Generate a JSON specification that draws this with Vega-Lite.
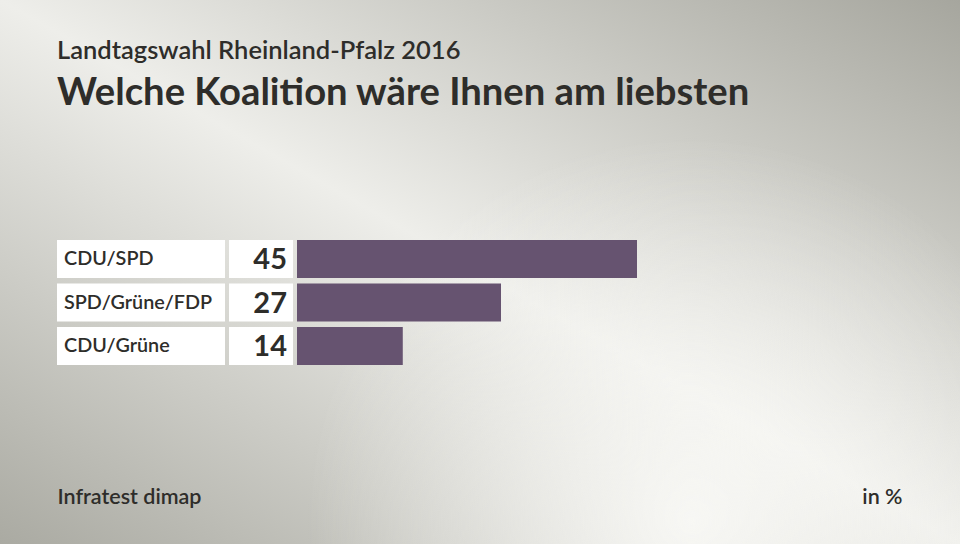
{
  "$schema": "https://vega.github.io/schema/vega-lite/v6.json",
  "width": 960,
  "height": 544,
  "autosize": {"type": "none"},
  "padding": 0,
  "background": "#d6d6d1",
  "config": {"view": {"stroke": null}, "font": "Lato"},
  "title": {
    "text": "Landtagswahl Rheinland-Pfalz 2016",
    "subtitle": "Welche Koalition wäre Ihnen am liebsten",
    "anchor": "start",
    "frame": "group",
    "dx": 57,
    "offset": -112,
    "font": "Lato",
    "fontSize": 25.5,
    "fontWeight": 600,
    "color": "#2e2d2a",
    "subtitleFont": "Lato",
    "subtitleFontSize": 38.2,
    "subtitleFontWeight": "bold",
    "subtitleColor": "#2e2d2a",
    "subtitlePadding": 10
  },
  "data": {"values": [
    {"koalition": "CDU/SPD", "wert": 45},
    {"koalition": "SPD/Grüne/FDP", "wert": 27},
    {"koalition": "CDU/Grüne", "wert": 14}
  ]},
  "resolve": {"scale": {"x": "independent"}},
  "layer": [
    {
      "data": {"values": [{}]},
      "mark": {"type": "rect", "color": {"gradient": "linear", "x1": 1, "y1": 0, "x2": 0, "y2": 1, "stops": [
        {"offset": 0, "color": "#a6a69e"},
        {"offset": 0.5, "color": "#eeeeea"},
        {"offset": 1, "color": "#aaaaa2"}
      ]}}
    },
    {
      "data": {"values": [{}]},
      "mark": {"type": "rect", "color": {"gradient": "radial", "x1": 0.72, "y1": 0.76, "r1": 0, "x2": 0.72, "y2": 0.76, "r2": 0.4, "stops": [
        {"offset": 0, "color": "rgba(250,250,247,0.9)"},
        {"offset": 1, "color": "rgba(250,250,247,0)"}
      ]}}
    },
    {
      "mark": {"type": "rect", "color": "#ffffff"},
      "encoding": {
        "y": {"field": "koalition", "type": "nominal", "sort": null,
              "scale": {"range": [240, 365], "paddingInner": 0.13, "paddingOuter": 0},
              "axis": {"orient": "right", "labels": false, "ticks": false, "domain": false, "grid": false,
                       "minExtent": 0, "maxExtent": 0, "zindex": 2,
                       "title": "in %", "titleAngle": 0, "titleAlign": "right", "titleBaseline": "alphabetic",
                       "titleX": -58, "titleY": 503, "titleFont": "Lato", "titleFontSize": 21.5, "titleFontWeight": 600, "titleColor": "#2e2d2a"}},
        "x": {"datum": 0, "scale": {"domain": [0, 1], "range": [57, 225]}, "axis": null},
        "x2": {"datum": 1}
      }
    },
    {
      "mark": {"type": "text", "align": "left", "baseline": "middle", "dx": 7, "fontSize": 19.8, "fontWeight": 600, "color": "#2e2d2a"},
      "encoding": {
        "y": {"field": "koalition", "type": "nominal", "sort": null},
        "x": {"datum": 0, "scale": {"domain": [0, 1], "range": [57, 225]}, "axis": null},
        "text": {"field": "koalition"}
      }
    },
    {
      "mark": {"type": "rect", "color": "#ffffff"},
      "encoding": {
        "y": {"field": "koalition", "type": "nominal", "sort": null},
        "x": {"datum": 0, "scale": {"domain": [0, 1], "range": [229, 293]}, "axis": null},
        "x2": {"datum": 1}
      }
    },
    {
      "mark": {"type": "text", "align": "right", "baseline": "middle", "dx": -6, "dy": 1, "fontSize": 29, "fontWeight": "bold", "color": "#2e2d2a"},
      "encoding": {
        "y": {"field": "koalition", "type": "nominal", "sort": null},
        "x": {"datum": 1, "scale": {"domain": [0, 1], "range": [229, 293]}, "axis": null},
        "text": {"field": "wert", "type": "quantitative"}
      }
    },
    {
      "mark": {"type": "bar", "color": "#665370"},
      "encoding": {
        "y": {"field": "koalition", "type": "nominal", "sort": null},
        "x": {"field": "wert", "type": "quantitative",
              "scale": {"domain": [0, 45], "range": [297, 637], "nice": false, "zero": true},
              "axis": {"orient": "bottom", "labels": false, "ticks": false, "domain": false, "grid": false,
                       "minExtent": 0, "maxExtent": 0, "zindex": 2,
                       "title": "Infratest dimap", "titleAlign": "left", "titleBaseline": "alphabetic",
                       "titleX": 57, "titleY": -41, "titleFont": "Lato", "titleFontSize": 21.5, "titleFontWeight": 600, "titleColor": "#2e2d2a"}}
      }
    }
  ]
}
